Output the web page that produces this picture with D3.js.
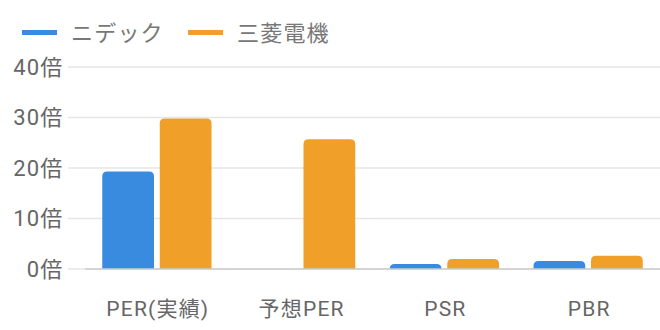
<!DOCTYPE html>
<html><head><meta charset="utf-8">
<script src="https://cdn.jsdelivr.net/npm/d3@7"></script>
<style>body{margin:0;background:#fff}svg{display:block;font-family:Roboto,"Noto Sans CJK JP","Noto Sans",sans-serif}</style>
</head><body><svg id="c" width="660" height="330"></svg>
<script>
const categories = ["PER(実績)", "予想PER", "PSR", "PBR"];
const seriesNames = ["ニデック", "三菱電機"];
const nidec = [19.3, null, 1.0, 1.6];
const mitsubishi = [29.8, 25.7, 2.0, 2.6];
const yTicks = [0, 10, 20, 30, 40];
const colors = ["#398be0", "#f09f29"];

const svg = d3.select("#c");
const x0 = d3.scaleBand().domain(categories).range([85, 660]).paddingInner(0.24).paddingOuter(0.12);
const x1 = d3.scaleBand().domain(seriesNames).range([0, x0.bandwidth()]).paddingInner(0.1);
const y = d3.scaleLinear().domain([0, 40]).range([269, 67]);

// grid
svg.append("g").selectAll("line").data(yTicks).join("line")
  .attr("x1", 68).attr("x2", 660).attr("y1", d => y(d)).attr("y2", d => y(d))
  .attr("stroke", "#e6e6e6").attr("stroke-width", 1.5);
// y labels
svg.append("g").selectAll("text").data(yTicks).join("text")
  .attr("x", 63.5).attr("y", d => y(d)).attr("dy", "0.36em").attr("text-anchor", "end")
  .attr("fill", "#666").attr("font-size", 22).attr("letter-spacing", 1.2).text(d => d + "倍");

const data = [nidec, mitsubishi];
const r = 5;
function barPath(xl, w, yt, yb) {
  const rr = Math.min(r, (yb - yt), w / 2);
  return `M${xl},${yb}V${yt + rr}Q${xl},${yt} ${xl + rr},${yt}H${xl + w - rr}Q${xl + w},${yt} ${xl + w},${yt + rr}V${yb}Z`;
}
seriesNames.forEach((s, si) => {
  svg.append("g").selectAll("path").data(categories.map((c, i) => ({c, v: data[si][i]})).filter(d => d.v != null))
    .join("path").attr("fill", colors[si])
    .attr("d", d => barPath(x0(d.c) + x1(s), x1.bandwidth(), y(d.v), y(0)));
});
// axis line
svg.append("line").attr("x1", 85).attr("x2", 660).attr("y1", y(0)).attr("y2", y(0))
  .attr("stroke", "#ccc").attr("stroke-width", 1.5);
// x labels
svg.append("g").selectAll("text").data(categories).join("text")
  .attr("x", d => x0(d) + x0.bandwidth() / 2 + 1).attr("y", 308).attr("dy", "0.36em")
  .attr("text-anchor", "middle").attr("fill", "#666").attr("font-size", 21).attr("letter-spacing", 1.2).text(d => d);
// legend
const legX = [22, 188];
seriesNames.forEach((s, i) => {
  svg.append("rect").attr("x", legX[i]).attr("y", 30).attr("width", 35).attr("height", 5).attr("fill", colors[i]);
  svg.append("text").attr("x", legX[i] + 49).attr("y", 33).attr("dy", "0.36em")
    .attr("fill", "#777").attr("font-size", 22).attr("letter-spacing", 1.2).text(s);
});
</script></body></html>
